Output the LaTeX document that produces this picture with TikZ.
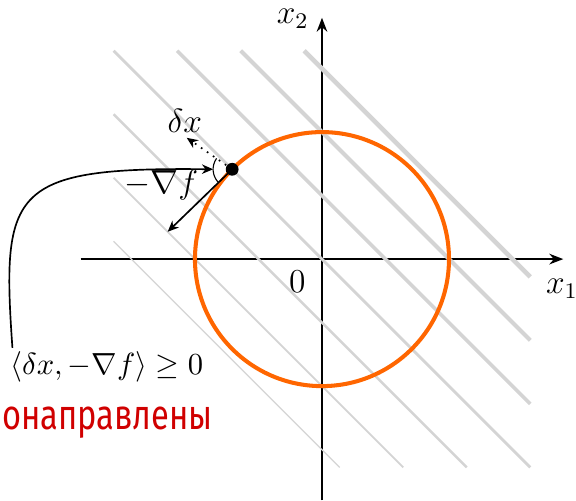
\documentclass[tikz,border=0pt]{standalone}
\usepackage{fontspec}
\newfontfamily\handfont[FakeStretch=0.78]{Fira Sans}
\usepackage{amsmath,amssymb}
\usepackage{xcolor}
\usetikzlibrary{arrows.meta,positioning,calc}
\definecolor{sorange}{RGB}{255,102,0}
\definecolor{hred}{RGB}{208,0,0}

\begin{document}
\begin{tikzpicture}[x=0.8cm, y=0.8cm,
  axis/.style={line width=0.7pt, -{Stealth[length=5pt,width=3.8pt]}},
  level/.style={draw=black!17},
  arr/.style={-{Stealth[length=4pt,width=3.4pt]}, semithick},
  dot/.style={circle, fill, inner sep=0pt, minimum size=4.6pt},
  lbl/.style={inner sep=1pt, font=\fontsize{11.5}{13}\selectfont}]
\useasboundingbox (-5.07,-3.795) rectangle (4.0,4.08);
\coordinate (xs) at (-3.8,0);
\coordinate (xe) at (3.8,0);
\coordinate (ys) at (0,-3.8);
\coordinate (ye) at (0,3.8);
\draw[axis] (xs) -- (xe);
\draw[axis] (ys) -- (ye);
\node[lbl] (xone) at (3.78,-0.46) {$x_1$};
\node[lbl] (xtwo) at (-0.46,3.79) {$x_2$};
\node[lbl] (zero) at (-0.39,-0.36) {$0$};
\foreach \c/\w in {-3/0.45,-2/0.65,-1/0.85,0/1.05,1/1.25,2/1.45,3/1.65}
  \draw[level, line width=\w pt] ({max(-3.28,\c-3.28)},{min(3.28,\c+3.28)}) -- ({min(3.28,\c+3.28)},{max(-3.28,\c-3.28)});
\draw[sorange, line width=1.45pt] (0,0) circle (2);
\node[dot] (pt) at (135:2) {};
\coordinate (gradtip) at (-2.43,0.43);
\coordinate (dxtip) at (-2.13,1.91);
\draw[arr] (pt.center) -- (gradtip);
\draw[arr, dotted] (pt.center) -- (dxtip);
\draw ($(pt.center)+(145:0.3)$) arc (145:225:0.3);
\coordinate (arcw) at ($(pt.center)+(180:0.3)$);
\node[lbl] (dx) at (-2.16,2.17) {$\delta x$};
\node[lbl] (grad) at (-2.53,1.17) {$-\nabla f$};
\node[lbl, font=\fontsize{10.6}{12}\selectfont] (ineq) at (-3.39,-1.69) {$\langle \delta x, -\nabla f\rangle \geq 0$};
\node[inner sep=0pt, anchor=west, text=hred, font=\handfont\fontsize{15}{15}\selectfont] (note) at (-5.04,-2.58) {онаправлены};
\draw[arr] ([xshift=2pt]ineq.north west) .. controls (-5.05,1.1) and (-4.9,1.45) .. (arcw);
\end{tikzpicture}
\end{document}
